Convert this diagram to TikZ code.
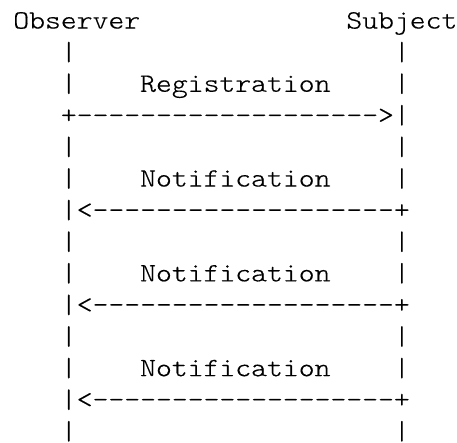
\documentclass[tikz,border=0pt]{standalone}
\usepackage{fontspec}
\newfontfamily\courlike[FakeStretch=1.1443,FakeBold=0.4]{lmmonolt10-regular.otf}
\begin{document}
\begin{tikzpicture}[x=15.86pt,y=-31.6pt,
  ch/.style={anchor=base west,inner sep=0pt,outer sep=0pt,
    font=\courlike\fontsize{26.4pt}{31.6pt}\selectfont,text=black}]
\useasboundingbox[fill=white] (-12.5pt/15.86pt*1,-29.5pt/31.6pt*1) rectangle ++(457pt,-443pt);
\begin{scope}[shift={(12.5pt,-29.5pt)}]
\node[ch] (obs) at (0,0) {Observer};
\node[ch] (sub) at (21,0) {Subject};
\foreach \r in {1,2,4,5,7,8,10,11,13}{
  \node[ch] (lb\r) at (3,\r) {|};
  \node[ch] (rb\r) at (24,\r) {|};
}
\node[ch] (reg) at (8,2) {Registration};
\node[ch] (arr3) at (3,3) {+------------------->|};
\foreach \r/\lab in {5/n1,8/n2,11/n3}{
  \node[ch] (\lab) at (8,\r) {Notification};
}
\foreach \r in {6,9,12}{
  \node[ch] (arr\r) at (3,\r) {|<-------------------+};
}
\end{scope}
\end{tikzpicture}
\end{document}
